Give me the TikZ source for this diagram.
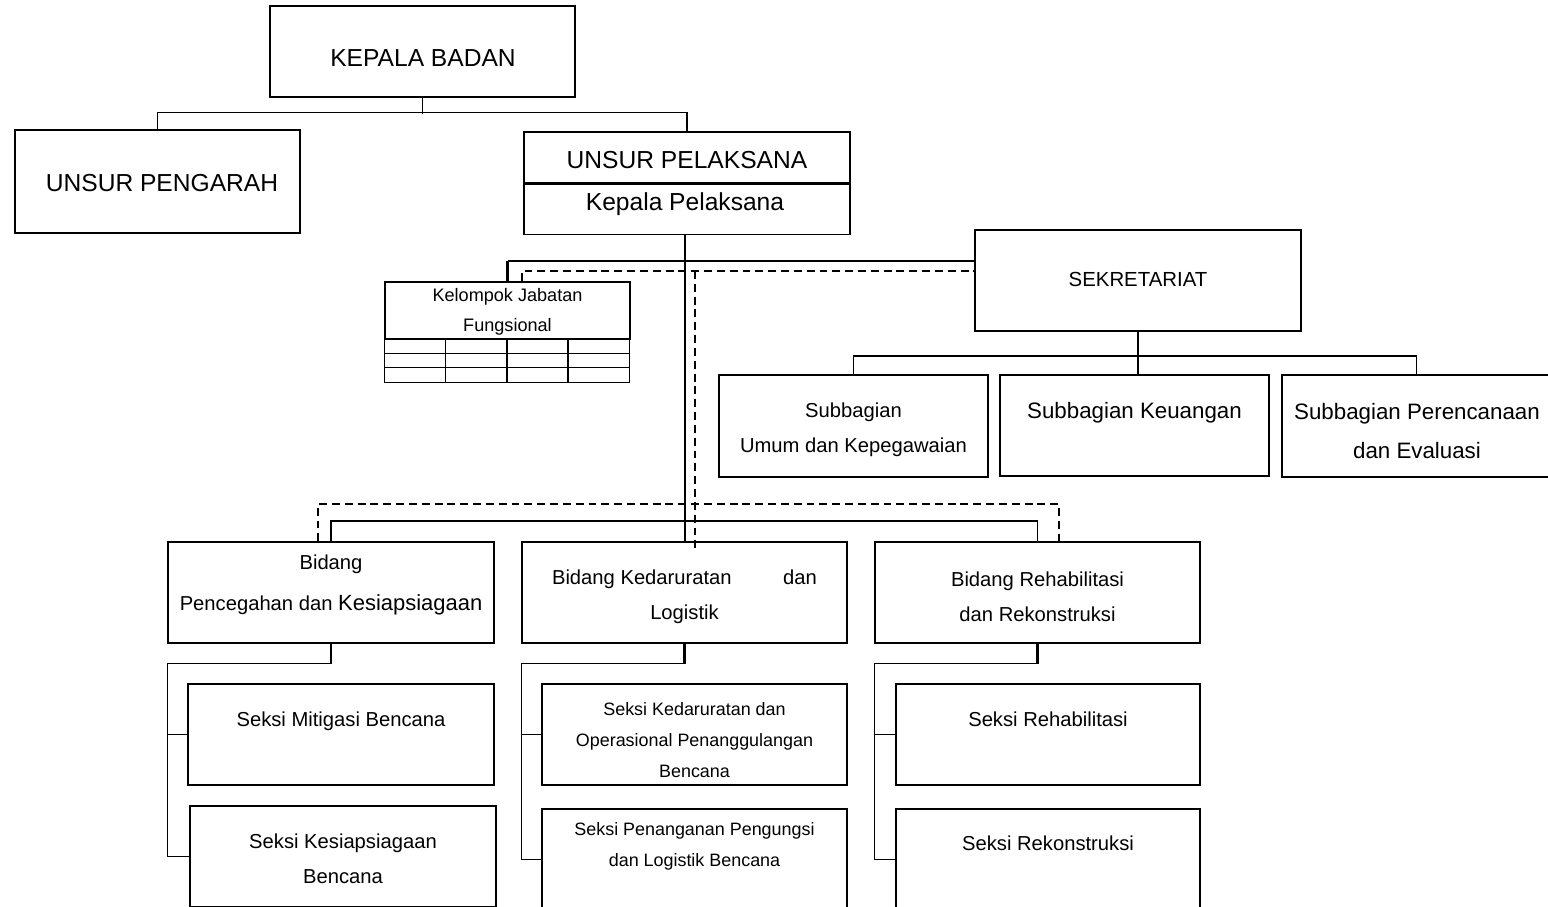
\documentclass[tikz,border=0pt]{standalone}
\usepackage{fontspec}
\setmainfont{Liberation Sans}
\usetikzlibrary{
  positioning,
  calc
}
\tikzset{
  unit/.style 2 args={
    draw,
    line width=0.8pt,
    inner sep=0pt,
    minimum width=#1cm,
    minimum height=#2cm
  },
  txt/.style={font=\fontsize{#1}{#1}\selectfont, inner sep=0pt, anchor=mid},
  txtc/.style={font=\fontsize{#1}{#1}\selectfont, inner sep=0pt},
  txtm/.style 2 args={
    font=\fontsize{#1}{#2}\selectfont,
    align=center,
    inner sep=0pt
  },
  link/.style={line width=0.8pt},
  stub/.style={line width=1.6pt},
  dlink/.style={line width=0.8pt, dash pattern=on 4.5pt off 2.8pt}
}

\begin{document}
\begin{tikzpicture}[x=0.02cm, y=-0.02cm]
  \useasboundingbox (0,0) rectangle (1548,906);

  % Pimpinan
  \node[unit={6.1}{1.82}] (kb) at (422.5,51.5) {};
  \node[unit={5.7}{2.06}] (up) at (157.5,181.5) {};
  \node[unit={6.52}{1.02}] (upl) at (687,157.5) {};
  \node[unit={6.52}{1.0}, below=0pt of upl] (kp) {};

  \node[txtc=14] (kb-t) at (423,58) {KEPALA BADAN};
  \node[txtc=14] (up-t) at (162,183.5) {UNSUR PENGARAH};
  \node[txtc=14] (upl-t) at (687,160) {UNSUR PELAKSANA};
  \node[txt=14] (kp-t) at (685,206) {Kepala Pelaksana};

  % Sekretariat dan jabatan fungsional
  \node[unit={6.52}{2.02}] (sek) at (1138,280.5) {};
  \node[txtc=11.6] (sek-t) at (1138,279) {SEKRETARIAT};

  \node[unit={4.9}{1.14}] (kjf) at (507.5,310.5) {};
  \node[txtm={10.3}{17}] (kjf-t) at (507.5,312) {Kelompok Jabatan\\Fungsional};
  \draw[link] (kjf.south west) rectangle ++(245,43);
  \foreach \r in {1,2}
    \draw[link] (kjf.south west) ++(0,14*\r) -- ++(245,0);
  \foreach \c in {1,2,3}
    \draw[link] (kjf.south west) ++(61.25*\c,0) -- ++(0,43);

  % Subbagian
  \node[unit={5.38}{2.04}] (sb1) at (853.5,426) {};
  \node[unit={5.38}{2.02}] (sb2) at (1134.5,425.5) {};
  \node[unit={5.38}{2.04}] (sb3) at (1416.5,426) {};

  \node[txtm={11.5}{19.8}] (sb1-t) at (853.5,429.5) {Subbagian\\Umum dan Kepegawaian};
  \node[txt=12.7] (sb2-t) at (1134.5,414) {Subbagian Keuangan};
  \node[txtm={12.7}{22}] (sb3-t) at (1417,431) {Subbagian Perencanaan\\dan Evaluasi};

  % Bidang
  \node[unit={6.52}{2.02}] (b1) at (331,592.5) {};
  \node[unit={6.5}{2.02}] (b2) at (684.5,592.5) {};
  \node[unit={6.5}{2.02}] (b3) at (1037.5,592.5) {};

  \node[txtm={11.5}{23.8}] (b1-t) at (331,585)
    {Bidang\\Pencegahan dan {\fontsize{12.5}{23.8}\selectfont Kesiapsiagaan}};
  \node[txtm={11.5}{19.8}] (b2-t) at (684.5,596.5)
    {\makebox[5.3cm]{Bidang Kedaruratan\hfill dan}\\Logistik};
  \node[txtm={11.5}{19.8}] (b3-t) at (1037.5,596.5)
    {Bidang Rehabilitasi\\dan Rekonstruksi};

  % Seksi
  \node[unit={6.12}{2.02}] (s11) at (341,734.5) {};
  \node[unit={6.12}{2.02}] (s12) at (343,856.5) {};
  \node[unit={6.1}{2.02}] (s21) at (694.5,734.5) {};
  \node[unit={6.1}{2.02}] (s22) at (694.5,859.5) {};
  \node[unit={6.08}{2.02}] (s31) at (1048,734.5) {};
  \node[unit={6.08}{2.02}] (s32) at (1048,859.5) {};

  \node[txt=11.5] (s11-t) at (341,722) {Seksi Mitigasi Bencana};
  \node[txtm={11.5}{19.8}] (s12-t) at (343,858.5) {Seksi Kesiapsiagaan\\Bencana};
  \node[txtm={10.2}{17.6}] (s21-t) at (694.5,740)
    {Seksi Kedaruratan dan\\Operasional Penanggulangan\\Bencana};
  \node[txtm={10.2}{17.6}] (s22-t) at (694.5,846.5)
    {Seksi Penanganan Pengungsi\\dan Logistik Bencana};
  \node[txt=11.5] (s31-t) at (1048,722) {Seksi Rehabilitasi};
  \node[txt=11.5] (s32-t) at (1048,846) {Seksi Rekonstruksi};

  % Garis komando dan koordinasi
  \coordinate (bar1) at (685,261);
  \coordinate (dbar1) at (695,271);
  \coordinate (dbar2) at (695,504);
  \coordinate (bar2) at (685,521);
  \coordinate (bar3) at (1138,356);

  \draw[link] (kb.south) -- ++(0,16);
  \draw[link] (up.north) -- ++(0,-17) -| (upl.north);
  \draw[link] (bar1 |- kp.south) -- (bar1 |- b2.north);

  \draw[stub] (kjf.north) -- (kjf.north |- bar1);
  \draw[link] (kjf.north |- bar1) -- (bar1 -| sek.west);
  \draw[dlink] (kjf.north) ++(14.5,0) |- (dbar1) -- (dbar1 -| sek.west);
  \draw[dlink] (dbar1) -- ++(0,279);

  \draw[dlink] (b1.north) ++(-13,0) |- (dbar2) -| ($(b3.north)+(21.5,0)$);
  \draw[link] (b1.north) |- (bar2) -| (b3.north);

  \draw[link] (sek.south) -- (sek.south |- sb2.north);
  \draw[link] (sb1.north) |- (bar3) -| (sb3.north);

  \foreach \c in {1,2,3} {
    \draw[stub] (b\c.south) -- ++(0,20) coordinate (k\c);
    \draw[link] (k\c) -| (b\c.west |- s\c2.west) -- (s\c2.west);
    \draw[link] (b\c.west |- s\c1.west) -- (s\c1.west);
  }
\end{tikzpicture}
\end{document}
